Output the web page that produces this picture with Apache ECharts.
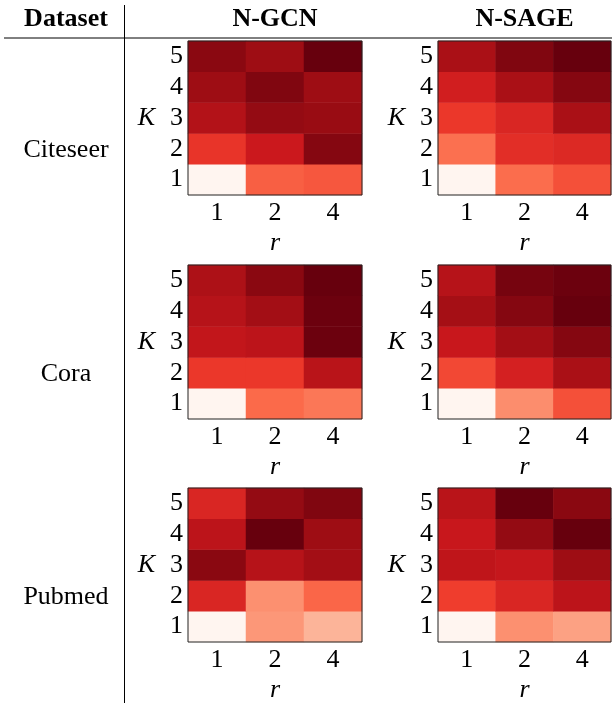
<!DOCTYPE html>
<html>
<head>
<meta charset="utf-8">
<style>html,body{margin:0;padding:0;background:#fff;}#chart{width:616px;height:704px;}</style>
<script src="https://cdn.jsdelivr.net/npm/echarts@6/dist/echarts.min.js"></script>
</head>
<body>
<div id="chart"></div>
<script>
// ---- data (relative score, 0 = lowest, 1 = highest within each panel) ----
var rLabels = ['1', '2', '4'];
var kLabels = ['1', '2', '3', '4', '5'];
var datasets = ['Citeseer', 'Cora', 'Pubmed'];
var models = ['N-GCN', 'N-SAGE'];
// rows: K = 1..5, columns: r = 1, 2, 4
var citeseerGCN = [
  [0.00, 0.53, 0.55],
  [0.65, 0.75, 0.94],
  [0.83, 0.91, 0.90],
  [0.89, 0.95, 0.89],
  [0.93, 0.89, 1.00]
];
var citeseerSAGE = [
  [0.00, 0.49, 0.57],
  [0.48, 0.67, 0.69],
  [0.64, 0.70, 0.86],
  [0.73, 0.86, 0.94],
  [0.86, 0.95, 1.00]
];
var coraGCN = [
  [0.00, 0.50, 0.46],
  [0.64, 0.64, 0.81],
  [0.78, 0.80, 0.99],
  [0.82, 0.88, 0.99],
  [0.85, 0.93, 1.00]
];
var coraSAGE = [
  [0.00, 0.39, 0.57],
  [0.59, 0.72, 0.86],
  [0.76, 0.88, 0.94],
  [0.875, 0.94, 1.00],
  [0.82, 0.97, 0.99]
];
var pubmedGCN = [
  [0.00, 0.36, 0.27],
  [0.70, 0.38, 0.51],
  [0.93, 0.82, 0.88],
  [0.80, 1.00, 0.89],
  [0.70, 0.91, 0.95]
];
var pubmedSAGE = [
  [0.00, 0.38, 0.33],
  [0.62, 0.70, 0.80],
  [0.79, 0.77, 0.89],
  [0.76, 0.91, 1.00],
  [0.81, 1.00, 0.93]
];
var panels = [citeseerGCN, citeseerSAGE, coraGCN, coraSAGE, pubmedGCN, pubmedSAGE];
var redsColors = ['#fff5f0','#fee0d2','#fcbba1','#fc9272','#fb6a4a','#ef3b2c','#cb181d','#a50f15','#67000d'];

// ---- layout ----
var FONT = 'Liberation Serif';
var colLeft = [188, 438];
var colWidth = [174, 173];
var rowTop = [41, 265, 488];
var cellH = 154;
var fs = 26;

var grids = [], xAxes = [], yAxes = [], series = [];
panels.forEach(function (mat, i) {
  var row = Math.floor(i / 2), col = i % 2;
  grids.push({
    left: colLeft[col], top: rowTop[row], width: colWidth[col], height: cellH,
    show: true, z: 5, backgroundColor: 'transparent', borderColor: '#222', borderWidth: 1
  });
  xAxes.push({
    type: 'category', gridIndex: i, data: rLabels,
    axisTick: {show: false},
    axisLine: {show: false},
    splitLine: {show: false},
    axisLabel: {interval: 0, fontSize: fs, color: '#000', fontFamily: FONT, margin: 5},
    name: 'r', nameLocation: 'middle', nameGap: 35,
    nameTextStyle: {fontSize: fs, color: '#000', fontFamily: FONT, fontStyle: 'italic'}
  });
  yAxes.push({
    type: 'category', gridIndex: i, data: kLabels,
    axisTick: {show: false},
    axisLine: {show: false},
    splitLine: {show: false},
    axisLabel: {interval: 0, fontSize: fs, color: '#000', fontFamily: FONT, margin: 5},
    name: 'K', nameLocation: 'middle', nameGap: 33, nameRotate: 0,
    nameTextStyle: {fontSize: fs, color: '#000', fontFamily: FONT, fontStyle: 'italic'}
  });
  var data = [];
  mat.forEach(function (rowVals, k) {
    rowVals.forEach(function (v, r) { data.push([r, k, v]); });
  });
  series.push({
    type: 'heatmap', xAxisIndex: i, yAxisIndex: i, data: data,
    itemStyle: {borderWidth: 0},
    emphasis: {disabled: true}
  });
});

function txt(x, y, s, bold) {
  return {type: 'text', x: x, y: y,
    style: {text: s, fontFamily: FONT, fontSize: 26, fontWeight: bold ? 'bold' : 'normal',
      fill: '#000', textAlign: 'center', textVerticalAlign: 'middle'}};
}
var graphics = [
  {type: 'line', shape: {x1: 4, y1: 38, x2: 612, y2: 38}, style: {stroke: '#000', lineWidth: 1}},
  {type: 'line', shape: {x1: 124.5, y1: 5, x2: 124.5, y2: 703}, style: {stroke: '#000', lineWidth: 1}},
  txt(66, 19, 'Dataset', true)
];
models.forEach(function (m, c) {
  graphics.push(txt(colLeft[c] + colWidth[c] / 2, 19, m, true));
});
datasets.forEach(function (d, r) {
  graphics.push(txt(66, rowTop[r] + 109, d, false));
});

var chart = echarts.init(document.getElementById('chart'), null, {renderer: 'canvas'});
chart.setOption({
  animation: false,
  backgroundColor: '#fff',
  grid: grids,
  xAxis: xAxes,
  yAxis: yAxes,
  visualMap: {
    type: 'continuous', show: false, min: 0, max: 1,
    seriesIndex: [0, 1, 2, 3, 4, 5], dimension: 2,
    inRange: {color: redsColors}
  },
  series: series,
  graphic: graphics
});
</script>
</body>
</html>
